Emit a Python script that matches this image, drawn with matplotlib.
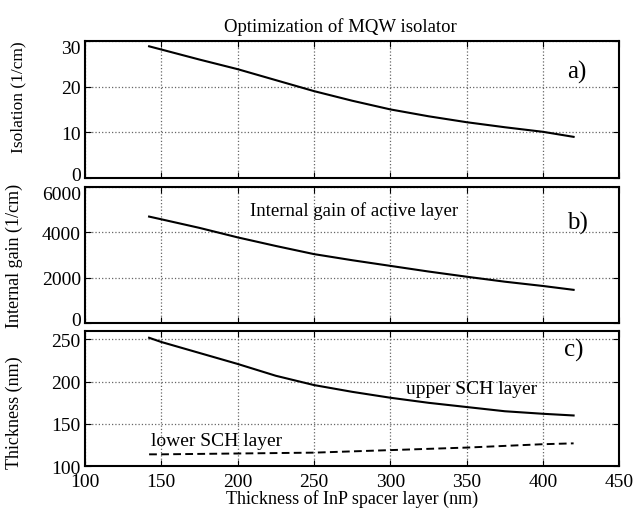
import numpy as np
import matplotlib.pyplot as plt
import matplotlib.transforms as mtrans

plt.rcParams['font.family'] = ['Liberation Serif', 'DejaVu Serif']

# spacer thickness (nm)
spacer = [142, 150, 175, 200, 225, 250, 275, 300, 325, 350, 375, 400, 420]
isolation = [28.8, 28.1, 25.9, 23.8, 21.4, 19.0, 16.9, 15.0, 13.5, 12.2, 11.1, 10.1, 9.0]
gain = [4700, 4580, 4200, 3780, 3400, 3040, 2770, 2520, 2270, 2040, 1820, 1630, 1460]

upper_sch = [252, 247, 234, 221, 207, 196, 188, 181, 175, 170, 165, 162, 160]
lower_sch = [114, 114, 114.5, 115, 115.5, 116, 117.5, 119, 120.5, 122, 124, 126, 127]

fig = plt.figure(figsize=(6.34, 5.10), dpi=100)
L, W = 0.134, 0.843
axa = fig.add_axes([L, 0.649, W, 0.269])
axb = fig.add_axes([L, 0.365, W, 0.266])
axc = fig.add_axes([L, 0.084, W, 0.265])

axa.plot(spacer, isolation, color='black', lw=1.5)
axb.plot(spacer, gain, color='black', lw=1.5)
axc.plot(spacer, upper_sch, color='black', lw=1.5)
axc.plot(spacer, lower_sch, color='black', lw=1.4, ls=(0, (4, 2.2)))

axa.set_ylim(0, 30)
axa.set_yticks([0, 10, 20, 30])
axb.set_ylim(0, 6000)
axb.set_yticks([0, 2000, 4000, 6000])
axc.set_ylim(100, 260)
axc.set_yticks([100, 150, 200, 250])

for ax in (axa, axb, axc):
    ax.set_xlim(100, 450)
    ax.set_xticks([100, 150, 200, 250, 300, 350, 400, 450])
    ax.grid(True, ls=':', color='#666666', lw=0.9)
    ax.tick_params(direction='in', top=True, right=True, labelsize=14, length=4, pad=3)
    for s in ax.spines.values():
        s.set_linewidth(1.5)
axa.set_xticklabels([])
axb.set_xticklabels([])
axc.tick_params(axis='x', pad=5)

# nudge the crowded end labels apart like the original
def nudge(lbl, dy):
    lbl.set_transform(lbl.get_transform() + mtrans.ScaledTranslation(0, dy / 72, fig.dpi_scale_trans))

fig.canvas.draw()
nudge(axa.get_yticklabels()[0], 3)
nudge(axa.get_yticklabels()[-1], -4)
nudge(axb.get_yticklabels()[0], 3)
nudge(axb.get_yticklabels()[-1], -4)

axa.set_ylabel('Isolation (1/cm)', fontsize=12.5)
axb.set_ylabel('Internal gain (1/cm)', fontsize=13)
axc.set_ylabel('Thickness (nm)', fontsize=13)
axa.yaxis.set_label_coords(-0.11, 0.6)
axb.yaxis.set_label_coords(-0.115, 0.5)
axc.yaxis.set_label_coords(-0.115, 0.4)
axc.set_xlabel('Thickness of InP spacer layer (nm)', fontsize=13, labelpad=-1)
axa.set_title('Optimization of MQW isolator', fontsize=13.5, x=0.477, pad=7)

axa.text(0.921, 0.78, 'a)', transform=axa.transAxes, fontsize=18, ha='center', va='center')
axb.text(0.921, 0.74, 'b)', transform=axb.transAxes, fontsize=18, ha='center', va='center')
axc.text(0.914, 0.86, 'c)', transform=axc.transAxes, fontsize=18, ha='center', va='center')
axb.text(276, 4980, 'Internal gain of active layer', fontsize=13.5, ha='center', va='center')
axc.text(353, 192, 'upper SCH layer', fontsize=14, ha='center', va='center')
axc.text(186, 130, 'lower SCH layer', fontsize=14, ha='center', va='center')

fig.savefig('out.png', dpi=100)
